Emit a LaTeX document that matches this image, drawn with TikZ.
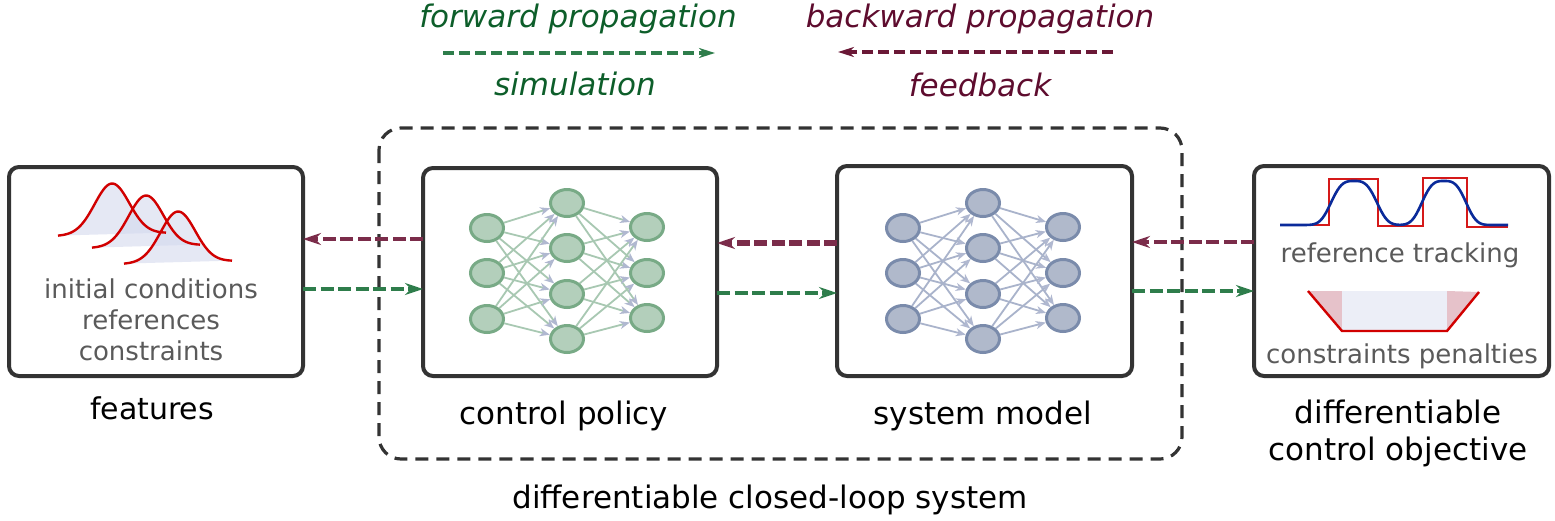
\documentclass[tikz,border=0pt]{standalone}
\usepackage{fontspec}
\setmainfont{DejaVu Sans}
\usetikzlibrary{shapes.geometric,arrows.meta}
\definecolor{boxc}{HTML}{333333}
\definecolor{fwdc}{HTML}{2E7D4B}
\definecolor{bwdc}{HTML}{7B2C4A}
\definecolor{fwdtxt}{HTML}{0D5E2A}
\definecolor{bwdtxt}{HTML}{5E0C2E}
\definecolor{legbwdc}{HTML}{6A1836}
\definecolor{txtgray}{HTML}{5A5A5A}
\definecolor{gfillc}{HTML}{B3CFBB}
\definecolor{gdrawc}{HTML}{78AA86}
\definecolor{bfillc}{HTML}{B0B9CB}
\definecolor{bdrawc}{HTML}{7A8BAB}
\definecolor{gedgec}{HTML}{A8C8B2}
\definecolor{bedgec}{HTML}{A9B3CB}
\definecolor{tipc}{HTML}{B0B8D0}
\definecolor{redc}{HTML}{D10000}
\definecolor{bluec}{HTML}{0A2A9A}
\definecolor{gaussc}{HTML}{D4D9EE}
\definecolor{pinkc}{HTML}{E6C2CA}
\definecolor{palec}{HTML}{ECEEF7}
\begin{document}
\begin{tikzpicture}[x=1pt,y=-1pt,
  mainbox/.style={draw=boxc, line width=4pt, rounded corners=10pt, fill=white,
    inner sep=0pt, outer sep=0pt, minimum width=294pt, minimum height=209pt},
  gnode/.style={ellipse, draw=gdrawc, fill=gfillc, line width=3pt,
    minimum width=33pt, minimum height=27pt, inner sep=0pt},
  bnode/.style={ellipse, draw=bdrawc, fill=bfillc, line width=3pt,
    minimum width=33pt, minimum height=27pt, inner sep=0pt},
  gedge/.style={draw=gedgec, line width=1.8pt,
    -{Stealth[length=10pt,width=8pt,inset=3pt,color=tipc]}},
  bedge/.style={draw=bedgec, line width=1.8pt,
    -{Stealth[length=10pt,width=8pt,inset=3pt,color=tipc]}},
  fwd/.style={draw=fwdc, line width=4.5pt, dash pattern=on 13pt off 4.5pt,
    -{Stealth[length=18pt,width=12pt,inset=6pt]}},
  bwd/.style={draw=bwdc, line width=4.5pt, dash pattern=on 13pt off 4.5pt,
    -{Stealth[length=18pt,width=12pt,inset=6pt]}},
  legfwd/.style={draw=fwdc, line width=3.5pt, dash pattern=on 11pt off 5pt,
    -{Stealth[length=16pt,width=10pt,inset=5pt]}},
  legbwd/.style={draw=legbwdc, line width=3.5pt, dash pattern=on 11pt off 5pt,
    -{Stealth[length=16pt,width=10pt,inset=5pt]}},
  lbl/.style={font=\fontsize{31}{36}\selectfont, text=black, inner sep=0pt, anchor=base},
  inner/.style={font=\fontsize{26}{30}\selectfont, text=txtgray, inner sep=0pt, anchor=base},
  legtxt/.style={font=\fontsize{31}{36}\selectfont\itshape, inner sep=0pt, anchor=base},
]
\useasboundingbox (0,0) rectangle (1555,520);

% closed-loop dashed frame
\draw[boxc, line width=3.2pt, dash pattern=on 13pt off 8pt, rounded corners=22pt]
  (379,128) rectangle (1182,459);

% main boxes
\node[mainbox] (feat) at (156,271.5) {};
\node[mainbox, minimum height=208pt] (cp) at (570,272) {};
\node[mainbox, minimum width=295pt, minimum height=210pt] (sm) at (984.5,271) {};
\node[mainbox, minimum width=295pt, minimum height=210pt] (obj) at (1401.5,271) {};

% neural networks
\foreach \p/\dx/\nd/\ed in {c/0/gnode/gedge, s/416/bnode/bedge}{
  \foreach \yy [count=\i] in {228,273,319} \node[\nd] (\p1\i) at (487+\dx,\yy) {};
  \foreach \yy [count=\i] in {203,248,294,339} \node[\nd] (\p2\i) at (567+\dx,\yy) {};
  \foreach \yy [count=\i] in {227,273,318} \node[\nd] (\p3\i) at (647+\dx,\yy) {};
  \foreach \i in {1,2,3} \foreach \j in {1,...,4} \draw[\ed] (\p1\i) -- (\p2\j);
  \foreach \j in {1,...,4} \foreach \k in {1,2,3} \draw[\ed] (\p2\j) -- (\p3\k);
}

% gaussian curves in features box
\foreach \xs/\ys in {58/236, 92/248, 124/264}{
  \fill[gaussc, opacity=0.6] plot[domain=-54:54, samples=60, smooth]
    ({\xs+54+\x}, {\ys-3*(\x+54)/108-51*exp(-(\x*\x)/600)}) -- cycle;
}
\foreach \xs/\ys in {58/236, 92/248, 124/264}{
  \draw[redc, line width=2.4pt] plot[domain=-54:54, samples=60, smooth]
    ({\xs+54+\x}, {\ys-3*(\x+54)/108-51*exp(-(\x*\x)/600)});
}

% texts in features box
\node[inner] (ic) at (151,298) {initial conditions};
\node[inner] (rf) at (151,329) {references};
\node[inner] (cs) at (151,360) {constraints};

% objective box: reference tracking
\draw[redc, line width=2.4pt, opacity=0.9] (1280,225) -- (1329,225) -- (1329,179) -- (1378,179)
  -- (1378,226) -- (1423,226) -- (1423,178) -- (1467,178) -- (1467,227) -- (1508,227);
\draw[bluec, line width=2.6pt] plot[domain=1280:1508, samples=120, smooth]
  (\x, {225-44*(exp(-min((((\x-1354)/26)*((\x-1354)/26))^1.6,20))
              +exp(-min((((\x-1444)/25)*((\x-1444)/25))^1.6,20)))});
\node[inner] (rt) at (1400,262) {reference tracking};

% constraint penalties
\fill[pinkc] (1308,291) -- (1342,291) -- (1342,331) -- cycle;
\fill[pinkc] (1447,291) -- (1479,292) -- (1447,331) -- cycle;
\fill[palec] (1342,291) rectangle (1447,331);
\draw[redc, line width=2.4pt] (1308,291) -- (1342,331) -- (1447,331) -- (1479,292);
\node[inner] (cpn) at (1402,363) {constraints penalties};

% connectors
\draw[bwd] (cp.west |- 0,239) -- (feat.east |- 0,239);
\draw[fwd] (feat.east |- 0,289) -- (cp.west |- 0,289);
\draw[bwd, line width=5.5pt] (sm.west |- 0,243) -- (cp.east |- 0,243);
\draw[fwd] (cp.east |- 0,293) -- (sm.west |- 0,293);
\draw[bwd] (obj.west |- 0,242) -- (sm.east |- 0,242);
\draw[fwd] (sm.east |- 0,291) -- (obj.west |- 0,291);

% labels
\node[lbl, font=\fontsize{30}{36}\selectfont] (lfeat) at (152,419) {features};
\node[lbl] (lcp) at (564,424) {control policy};
\node[lbl] (lsm) at (983,424) {system model};
\node[lbl] (lobj1) at (1398,423) {differentiable};
\node[lbl] (lobj2) at (1398,460) {control objective};
\node[lbl] (lcl) at (770,508) {differentiable closed-loop system};

% legend
\node[legtxt, text=fwdtxt] (fp) at (578,27) {forward propagation};
\node[legtxt, text=fwdtxt] (simu) at (575,95) {simulation};
\node[legtxt, text=bwdtxt] (bp) at (980,27) {backward propagation};
\node[legtxt, text=bwdtxt] (fb) at (980,96) {feedback};
\coordinate (fs) at (443,53);
\coordinate (fe) at (715,53);
\coordinate (bs) at (1113,52);
\coordinate (be) at (838,52);
\draw[legfwd] (fs) -- (fe);
\draw[legbwd] (bs) -- (be);
\end{tikzpicture}
\end{document}
